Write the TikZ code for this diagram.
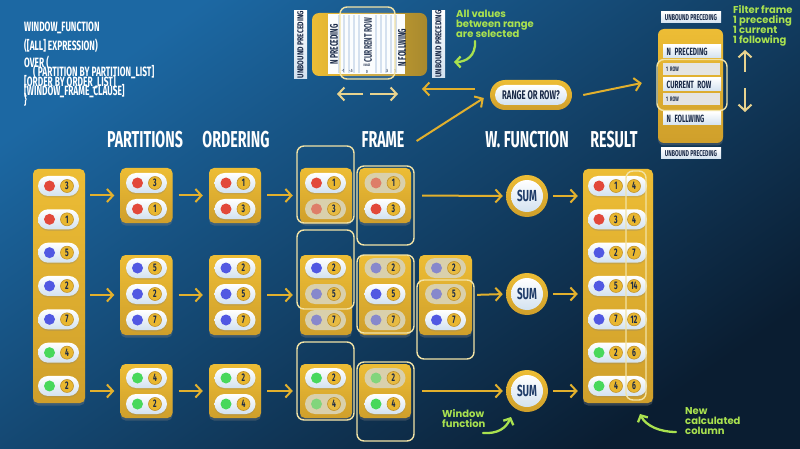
\documentclass[tikz,border=0pt]{standalone}
\usepackage{fontspec}
\setmainfont{Fira Sans}
\newfontfamily\bbf{Fira Sans}[FakeStretch=0.62]
\newfontfamily\cbf{Fira Sans}[FakeStretch=0.8]
\newfontfamily\grnf{Poppins}
\usetikzlibrary{arrows.meta,shadows}
\definecolor{bgA}{HTML}{1C68A3}
\definecolor{bgB}{HTML}{0A1D31}
\definecolor{goldA}{HTML}{EDBD35}
\definecolor{goldB}{HTML}{CF9F2B}
\definecolor{goldD}{HTML}{A8892E}
\definecolor{pillB}{HTML}{D3E2F0}
\definecolor{fadeC}{HTML}{D9D0AC}
\definecolor{numC}{HTML}{E9B730}
\definecolor{numD}{HTML}{C2932A}
\definecolor{navy}{HTML}{1A2A48}
\definecolor{sumT}{HTML}{1E3B68}
\definecolor{cream}{HTML}{F2E3A6}
\definecolor{arrC}{HTML}{E2B02D}
\definecolor{paleC}{HTML}{E8D38F}
\definecolor{grnC}{HTML}{A9E14F}
\definecolor{rd}{HTML}{E2483A}
\definecolor{bl}{HTML}{5158E2}
\definecolor{gr}{HTML}{48D85C}
\definecolor{barG}{HTML}{E4E4E2}
\definecolor{stripe}{HTML}{D0DDED}
\newcommand\pil[5]{%
  \node[pillbox] (#1) at (#2,#3) {};
  \node[dotn, fill=#4] (#1-d) at ([xshift=-9pt]#1.center) {};
  \node[numn] (#1-n) at ([xshift=8.5pt]#1.center) {#5};}
\newcommand\fpil[5]{%
  \node[fadebox] (#1) at (#2,#3) {};
  \node[dotn, fill=#4!60!fadeC] (#1-d) at ([xshift=-9pt]#1.center) {};
  \node[numn, fill=numC!85!fadeC] (#1-n) at ([xshift=8.5pt]#1.center) {#5};}
\newcommand\rpil[5]{%
  \node[pillbox, minimum width=59pt] (#1) at (617.5,#2) {};
  \node[dotn, fill=#3] (#1-d) at ([xshift=-18.5pt]#1.center) {};
  \node[numn] (#1-n) at ([xshift=-1.5pt]#1.center) {#4};
  \node[numn] (#1-m) at ([xshift=16.5pt]#1.center) {#5};}
\begin{document}
\begin{tikzpicture}[x=1pt,y=-1pt,
  goldbox/.style={rounded corners=5pt, top color=goldA, bottom color=goldB, inner sep=0pt, draw=none,
    drop shadow={shadow xshift=0pt, shadow yshift=-2.5pt, opacity=0.35}},
  pillbox/.style={rounded corners=10pt, minimum width=41pt, minimum height=20pt, inner sep=0pt, top color=white, bottom color=pillB,
    drop shadow={shadow xshift=0pt, shadow yshift=-1.5pt, opacity=0.25}},
  fadebox/.style={rounded corners=10pt, minimum width=41pt, minimum height=20pt, inner sep=0pt, fill=fadeC},
  dotn/.style={circle, minimum size=11pt, inner sep=0pt},
  numn/.style={circle, minimum size=13pt, inner sep=0pt, fill=numC, draw=numD, line width=0.6pt, text=navy, font=\bbf\bfseries\fontsize{11}{11}\selectfont},
  fol/.style={draw=cream, line width=1.4pt, rounded corners=7pt, inner sep=0pt},
  arr/.style={draw=arrC, line width=2pt, -{Straight Barb[length=6pt,width=13pt]}},
  parr/.style={draw=paleC, line width=2pt, -{Straight Barb[length=6pt,width=13pt]}},
  garr/.style={draw=grnC, line width=2.3pt, line cap=round, -{Straight Barb[length=5pt,width=11pt]}},
  head/.style={text=white, font=\bbf\bfseries\fontsize{23}{23}\selectfont, inner sep=0pt},
  code/.style={text=white, font=\bbf\bfseries\fontsize{13.5}{13.5}\selectfont, inner sep=0pt, anchor=base west},
  gtext/.style={text=grnC, font=\grnf\bfseries\fontsize{10}{10.2}\selectfont, align=left, inner sep=0pt, anchor=north west},
  vtag/.style={rotate=90, minimum width=59pt, minimum height=13pt, inner sep=0pt, top color=white, bottom color=pillB, text=navy, font=\cbf\bfseries\fontsize{8.5}{8.5}\selectfont},
  vlab/.style={rotate=90, inner sep=0pt, text=navy, font=\bbf\bfseries\fontsize{11}{11}\selectfont},
  tinyl/.style={inner sep=0pt, text=navy, font=\bbf\bfseries\fontsize{4.5}{4.5}\selectfont},
  rtag/.style={minimum width=60pt, minimum height=11pt, inner sep=0pt, top color=white, bottom color=pillB, text=navy, font=\bbf\bfseries\fontsize{8.5}{8.5}\selectfont},
  rbar/.style={anchor=west, minimum height=13pt, text width=51pt, inner xsep=3.5pt, inner ysep=0pt, align=left, top color=white, bottom color=pillB, text=navy, font=\bbf\bfseries\fontsize{10.5}{10.5}\selectfont},
  gbar/.style={anchor=west, minimum height=12pt, text width=51pt, inner xsep=3pt, inner ysep=0pt, align=left, fill=barG, text=navy, font=\bbf\bfseries\fontsize{6.5}{6.5}\selectfont},
  sumo/.style={circle, minimum size=42pt, inner sep=0pt, top color=goldA, bottom color=goldB},
  sumi/.style={circle, minimum size=32pt, inner sep=0pt, top color=white, bottom color=pillB, text=sumT, font=\bbf\bfseries\fontsize{16}{16}\selectfont}
]
\shade[top color=bgA, bottom color=bgB, shading angle=35] (0,0) rectangle (800,449);
\useasboundingbox (0,0) rectangle (800,449);

% ---------- code text
\node[code] (l1) at (24,31.5) {WINDOW\_FUNCTION};
\node[code] (l2) at (24,50.5) {([ALL] EXPRESSION)};
\node[code] (l3) at (24,67.5) {OVER (};
\node[code] (l4) at (33,77) {( PARTITION BY PARTITION\_LIST]};
\node[code] (l5) at (24,86.5) {[ORDER BY ORDER\_LIST]};
\node[code] (l6) at (24,95.5) {[WINDOW\_FRAME\_CLAUSE]};
\node[code] (l7) at (24,104.5) {\}};

% ---------- top illustration
\node[vtag] (tagL) at (300.5,44.5) {UNBOUND PRECEDING};
\node[rounded corners=7pt, minimum width=115pt, minimum height=63pt, left color=goldA, right color=goldD, inner sep=0pt] (tgold) at (369.5,44.5) {};
\node[minimum width=77pt, minimum height=60pt, fill=white!92!pillB, inner sep=0pt] (tpan) at (366.5,44) {};
\foreach \xx in {339,344,349,354,359,376,381,386,391,396}
  \draw[stripe, line width=1.4pt] (\xx,15) -- (\xx,73);
\node[vlab] (tNP) at (334,44.5) {N PRECEDING};
\node[vlab] (tCR) at (368,40) {CURRENT ROW};
\node[vlab] (tNF) at (402,47.5) {N FOLLWING};
\node[tinyl] (tm1) at (343,71) {-1};
\node[tinyl] (tm2) at (351,71) {-.5};
\node[tinyl, font=\bbf\bfseries\fontsize{3.5}{3.5}\selectfont] (trg) at (367,65.5) {RANGE};
\node[tinyl] (t0) at (367,71.5) {0};
\node[tinyl] (tp1) at (387,71) {.5};
\node[tinyl] (tp2) at (395,71) {1};
\node[fol, minimum width=55pt, minimum height=72pt, fill=white, fill opacity=0.12] (tol) at (367.5,43) {};
\node[vtag] (tagR) at (438.5,44) {UNBOUND PRECEDING};
\coordinate (pa1) at (363,94); \coordinate (pa2) at (337,94);
\coordinate (pa3) at (370,94); \coordinate (pa4) at (398,94);
\draw[parr] (pa1) -- (pa2);
\draw[parr] (pa3) -- (pa4);
\node[gtext] (gt1) at (456,10) {All values\\between range\\are selected};
\draw[garr] (475,41) .. controls (476,56) and (466,62) .. (454,62);

% ---------- range or row
\node[rounded corners=15pt, minimum width=82pt, minimum height=30pt, top color=goldA, bottom color=goldB, inner sep=0pt] (rr) at (531,95) {};
\node[rounded corners=10pt, minimum width=72pt, minimum height=20pt, inner sep=0pt, top color=white, bottom color=pillB, text=navy, font=\bbf\bfseries\fontsize{12.5}{12.5}\selectfont] (rri) at (rr.center) {RANGE OR ROW?};
\coordinate (lt) at (422,89);
\draw[arr] ([xshift=-15pt,yshift=6pt]rr.west) -- (lt);

% ---------- right panel
\node[rtag] (rtT) at (691,17.5) {UNBOUND PRECEDING};
\node[goldbox, rounded corners=6pt, minimum width=65pt, minimum height=114pt] (rgold) at (690.5,86) {};
\node[rbar] (rb1) at (663,51.5) {N PRECEDING};
\node[gbar] (rb2) at (663,69) {1 ROW};
\node[rbar] (rb3) at (663,84.5) {CURRENT ROW};
\node[gbar] (rb4) at (663,99.5) {1 ROW};
\node[rbar] (rb5) at (663,118.5) {N FOLLWING};
\node[fol, minimum width=70pt, minimum height=51pt] (rol) at (692,85) {};
\node[rtag] (rtB) at (691,153.5) {UNBOUND PRECEDING};
\coordinate (va1) at (745,72); \coordinate (va2) at (745,50);
\coordinate (va3) at (745,88); \coordinate (va4) at (745,112);
\draw[parr] (va1) -- (va2);
\draw[parr] (va3) -- (va4);
\node[gtext] (gt2) at (733,5) {Filter frame\\1 preceding\\1 current\\1 following};
\draw[arr] ([xshift=11pt]rr.east) -- ([xshift=-16pt,yshift=3pt]rgold.west);

% ---------- headings
\node[head] (hP) at (145,140) {PARTITIONS};
\node[head] (hO) at (236,140) {ORDERING};
\node[head] (hF) at (383,140) {FRAME};
\node[head] (hW) at (527,140) {W. FUNCTION};
\node[head] (hR) at (614,140) {RESULT};
\draw[arr] ([xshift=12pt,yshift=-1pt]hF.east) -- ([xshift=-6pt,yshift=-3pt]rr.west);

% ---------- gold boxes
\node[goldbox, minimum width=52pt, minimum height=234pt] (gA) at (59,286) {};
\foreach \nm/\xx in {B/146.5, C/235, Fa/326, Fb/385} {
  \node[goldbox, minimum width=52pt, minimum height=55pt] (g\nm1) at (\xx,195.5) {};
  \node[goldbox, minimum width=52pt, minimum height=80pt] (g\nm2) at (\xx,295) {};
  \node[goldbox, minimum width=52pt, minimum height=54pt] (g\nm3) at (\xx,391) {};
}
\node[goldbox, minimum width=53pt, minimum height=80pt] (gFc2) at (445.5,295) {};
\node[goldbox, minimum width=70pt, minimum height=234pt] (gR) at (618,286) {};

% ---------- column pills
\foreach \c/\n [count=\i] in {rd/3, rd/1, bl/5, bl/2, bl/7, gr/4, gr/2} {
  \pgfmathsetmacro\yy{186+33.33*(\i-1)}
  \pil{a\i}{58.5}{\yy}{\c}{\n}
}
\foreach \c/\n/\yy [count=\i] in {rd/3/183, rd/1/209, bl/5/268, bl/2/294, bl/7/320, gr/4/378, gr/2/404} {
  \pil{b\i}{146.5}{\yy}{\c}{\n}
}
\foreach \c/\n/\yy [count=\i] in {rd/1/183, rd/3/209, bl/2/268, bl/5/294, bl/7/320, gr/2/378, gr/4/404} {
  \pil{c\i}{235}{\yy}{\c}{\n}
}
% frame pills
\pil{f11a}{325.5}{183}{rd}{1}   \fpil{f11b}{325.5}{209}{rd}{3}
\fpil{f12a}{385}{183}{rd}{1}    \pil{f12b}{385}{209}{rd}{3}
\pil{f21a}{325.5}{268}{bl}{2}   \fpil{f21b}{325.5}{294}{bl}{5}  \fpil{f21c}{325.5}{320}{bl}{7}
\fpil{f22a}{385}{268}{bl}{2}    \pil{f22b}{385}{294}{bl}{5}     \fpil{f22c}{385}{320}{bl}{7}
\fpil{f23a}{445.5}{268}{bl}{2}  \fpil{f23b}{445.5}{294}{bl}{5}  \pil{f23c}{445.5}{320}{bl}{7}
\pil{f31a}{325.5}{378}{gr}{2}   \fpil{f31b}{325.5}{404}{gr}{4}
\fpil{f32a}{385}{378}{gr}{2}    \pil{f32b}{385}{404}{gr}{4}
% frame outlines
\node[fol, minimum width=57pt, minimum height=77pt] (o11) at (325.5,184.5) {};
\node[fol, minimum width=57pt, minimum height=79pt] (o12) at (385.5,205.5) {};
\node[fol, minimum width=57pt, minimum height=79pt] (o21) at (325.5,269.5) {};
\node[fol, minimum width=57pt, minimum height=78pt] (o22) at (385.5,294) {};
\node[fol, minimum width=57pt, minimum height=79pt] (o23) at (445.5,319.5) {};
\node[fol, minimum width=57pt, minimum height=78pt] (o31) at (325.5,381) {};
\node[fol, minimum width=57pt, minimum height=79pt] (o32) at (385.5,401.5) {};

% result pills
\foreach \c/\n/\m [count=\i] in {rd/1/4, rd/3/4, bl/2/7, bl/5/14, bl/7/12, gr/2/6, gr/4/6} {
  \pgfmathsetmacro\yy{186+33.33*(\i-1)}
  \rpil{r\i}{\yy}{\c}{\n}{\m}
}
\node[fol, minimum width=20pt, minimum height=229pt] (ro) at (636,285.5) {};

% SUM
\foreach \i/\yy in {1/196, 2/294, 3/391} {
  \node[sumo] (sum\i) at (527,\yy) {};
  \node[sumi] (sum\i i) at (sum\i.center) {SUM};
}

% main arrows
\foreach \i in {1,2,3} {
  \draw[arr, shorten <=5pt, shorten >=6pt] (gA.east |- gB\i.west) -- (gB\i.west);
  \draw[arr, shorten <=6pt, shorten >=6pt] (gB\i.east) -- (gC\i.west);
  \draw[arr, shorten <=6pt, shorten >=7pt] (gC\i.east) -- (gFa\i.west);
  \draw[arr, shorten <=5pt, shorten >=5pt] (sum\i.east) -- (gR.west |- sum\i.east);
}
\draw[arr, shorten <=11pt, shorten >=3pt] (gFb1.east) -- (sum1.west);
\draw[arr, shorten <=5pt, shorten >=3pt] (gFc2.east) -- (sum2.west);
\draw[arr, shorten <=11pt, shorten >=3pt] (gFb3.east) -- (sum3.west);

% annotations
\node[gtext] (gt3) at (442,409) {Window\\function};
\draw[garr] (483,433) .. controls (498,434) and (506,428) .. (511,417);
\node[gtext] (gt4) at (685,407) {New\\calculated\\column};
\draw[garr] (676,432) .. controls (660,432) and (646,426) .. (640,414);
\end{tikzpicture}
\end{document}
